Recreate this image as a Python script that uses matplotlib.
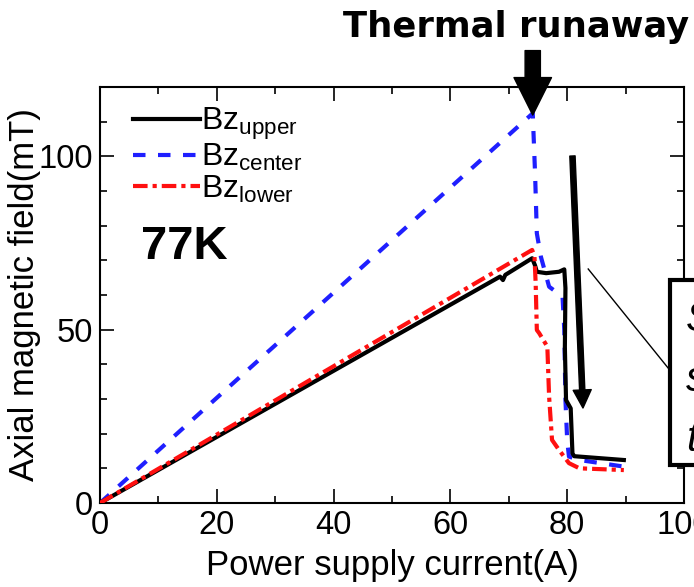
import matplotlib
matplotlib.use('Agg')
import matplotlib.pyplot as plt
from matplotlib.patches import Rectangle
from matplotlib.ticker import MultipleLocator

plt.rcParams['font.family'] = ['Liberation Sans', 'DejaVu Sans']
plt.rcParams['mathtext.default'] = 'regular'

# current (A) / field (mT)
upper_x = [0, 68.5, 69.0, 69.4, 74.0, 74.5, 74.8, 76.4, 78.6, 79.5, 79.7, 79.6, 79.8, 80.6, 80.9, 81.2, 89.7]
upper_y = [0, 65.3, 64.3, 65.8, 70.6, 68.5, 66.7, 66.3, 66.7, 67.4, 62.0, 45.0, 29.7, 27.3, 14.3, 13.5, 12.4]

center_x = [0, 74.1, 74.5, 74.8, 75.5, 76.9, 79.2, 79.5, 79.7, 80.0, 80.3, 82.1, 89.7]
center_y = [0, 112.4, 95.0, 77.8, 71.0, 62.4, 59.5, 50.0, 29.7, 18.0, 13.4, 12.4, 10.5]

lower_x = [0, 74.0, 74.4, 74.6, 74.8, 75.2, 76.6, 76.9, 77.4, 78.6, 80.3, 82.1, 89.7]
lower_y = [0, 73.0, 71.0, 63.4, 49.9, 49.0, 45.1, 30.7, 18.2, 15.3, 11.5, 10.0, 9.5]

labels = ['Bz$_{upper}$', 'Bz$_{center}$', 'Bz$_{lower}$']

fig = plt.figure(figsize=(6.94, 5.87), dpi=100)
ax = fig.add_axes([100/694, 84/587, 584/694, 416/587])

ax.plot(upper_x, upper_y, color='black', lw=3, ls='-', label=labels[0], zorder=3)
ax.plot(center_x, center_y, color='#1f1fff', lw=3, ls=(0, (3, 3)), label=labels[1], zorder=2)
ax.plot(lower_x, lower_y, color='#ff1010', lw=3, ls=(0, (3.5, 1.2, 1, 1.2)), label=labels[2], zorder=4)

ax.set_xlim(0, 100)
ax.set_ylim(0, 120)
ax.xaxis.set_major_locator(MultipleLocator(20))
ax.xaxis.set_minor_locator(MultipleLocator(10))
ax.yaxis.set_major_locator(MultipleLocator(50))
ax.yaxis.set_minor_locator(MultipleLocator(10))
ax.tick_params(which='both', direction='in', top=True, right=True, width=1.2, labelsize=23.5, pad=5)
ax.tick_params(which='major', length=10)
ax.tick_params(which='minor', length=5)
for s in ax.spines.values():
    s.set_linewidth(1.5)

ax.set_xlabel('Power supply current(A)', fontsize=25, labelpad=6)
ax.set_ylabel('Axial magnetic field(mT)', fontsize=25, labelpad=-2)

ax.legend(loc='upper left', bbox_to_anchor=(0.023, 1.0), frameon=False, fontsize=23,
          handlelength=2.1, handletextpad=0.05, labelspacing=0.0, borderaxespad=0.2)

ax.text(0.07, 0.615, '77K', transform=ax.transAxes, fontsize=34, fontweight='bold', va='center')

# thermal runaway label + arrow
fig.text(516/694, 1 - 37/587, 'Thermal runaway', fontsize=25.5, fontweight='bold', family='DejaVu Sans',
         ha='center', va='baseline')
ax.annotate('', xy=(74.1, 111.9), xytext=(74.1, 130.5), annotation_clip=False,
            arrowprops=dict(arrowstyle='simple,head_width=2.7,head_length=2.7,tail_width=1.1',
                            mutation_scale=10, color='black', shrinkA=0, shrinkB=0))

# drop arrow
ax.annotate('', xy=(82.7, 27.4), xytext=(80.9, 100.1),
            arrowprops=dict(arrowstyle='simple,head_width=1.3,head_length=1.3,tail_width=0.38',
                            mutation_scale=10, color='black', shrinkA=0, shrinkB=0))

# callout box on the right edge (cut by the image border, as in the original)
ax.plot([83.6, 97.3], [67.5, 38.9], color='black', lw=1)
fig.patches.append(Rectangle((670/694, 122/587), 0.1, 185/587, transform=fig.transFigure,
                             fill=True, facecolor='white', edgecolor='black', lw=3, zorder=5))
for i, w in enumerate(['Sudden', 'superconducting', 'transition']):
    fig.text(686/694, 1 - (320 + 60*i)/587, w, fontsize=30, style='italic',
             va='center', ha='left', zorder=6)

fig.savefig('out.png', dpi=100)
